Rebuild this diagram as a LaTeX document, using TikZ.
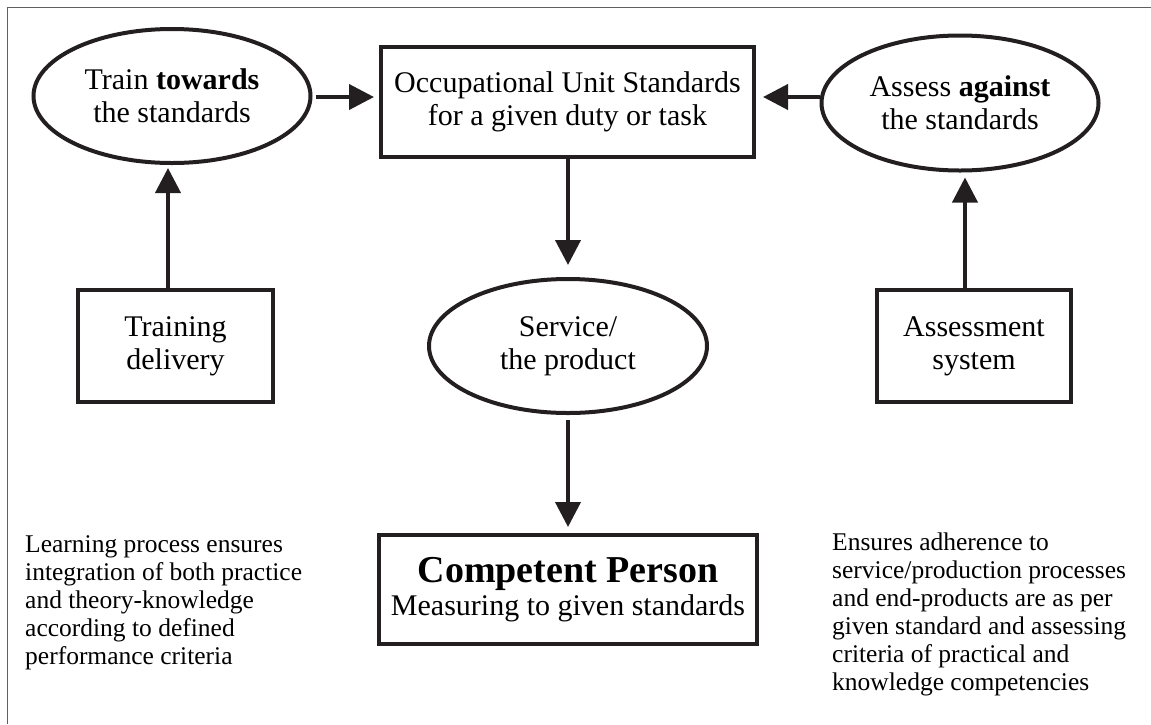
\documentclass[tikz,border=0pt]{standalone}
\usepackage{fontspec}
\setmainfont{Liberation Serif}
\usetikzlibrary{arrows.meta,shapes.geometric}
\definecolor{ink}{HTML}{231F20}
\definecolor{framegray}{HTML}{606060}
\tikzset{
  boxnode/.style={draw=ink, line width=4pt, rectangle, align=center, inner sep=0pt,
    font=\fontsize{30}{33}\selectfont},
  ellnode/.style={draw=ink, line width=4pt, ellipse, align=center, inner sep=0pt,
    minimum width=277pt, minimum height=134pt, font=\fontsize{30}{33}\selectfont},
  arr/.style={draw=ink, line width=4pt, -{Triangle[length=25pt,width=25pt]}},
  note/.style={align=left, inner sep=0pt, anchor=north west, font=\fontsize{25.5}{28}\selectfont}
}
\begin{document}
\begin{tikzpicture}[x=1pt,y=-1pt]
\useasboundingbox (0,0) rectangle (1151,724);
\draw[framegray, line width=0.8pt] (7,724) -- (7,7) -- (1151,7);

\node[ellnode] (trn) at (172,96) {Train \textbf{towards}\\the standards};
\node[boxnode, minimum width=373pt, minimum height=110pt] (ous) at (567.5,102)
  {Occupational Unit Standards\\for a given duty or task};
\node[ellnode, minimum height=135pt] (asg) at (960,103) {Assess \textbf{against}\\the standards};
\node[boxnode, minimum width=195pt, minimum height=112pt] (tdel) at (175.5,346) {Training\\delivery};
\node[ellnode, minimum width=278pt] (svc) at (568,346) {Service/\\the product};
\node[boxnode, minimum width=194pt, minimum height=112pt] (asys) at (974,346) {Assessment\\system};
\node[boxnode, minimum width=378pt, minimum height=109pt] (cp) at (568,589.5)
  {{\fontsize{38}{40}\selectfont\bfseries Competent Person}\\[0pt]Measuring to given standards};

\node[note] (lnote) at (25,535) {Learning process ensures\\integration of both practice\\and theory-knowledge\\according to defined\\performance criteria};
\node[note] (rnote) at (832,533) {Ensures adherence to\\service/production processes\\and end-products are as per\\given standard and assessing\\criteria of practical and\\knowledge competencies};

\coordinate (ay) at (0,97);
\coordinate (lx) at (168,0);
\coordinate (rx) at (965,0);
\coordinate (cx) at (568,0);

\draw[arr, shorten <=3pt, shorten >=5pt] (trn.east |- ay) -- (ous.west |- ay);
\draw[arr, shorten >=7pt] (asg.west |- ay) -- (ous.east |- ay);
\draw[arr, shorten >=12pt] (ous.south -| cx) -- (svc.north -| cx);
\draw[arr, shorten <=5pt, shorten >=6pt] (svc.south -| cx) -- (cp.north -| cx);
\draw[arr, shorten >=3pt] (tdel.north -| lx) -- (trn.south -| lx);
\draw[arr, shorten >=5pt] (asys.north -| rx) -- (asg.south -| rx);
\end{tikzpicture}
\end{document}
